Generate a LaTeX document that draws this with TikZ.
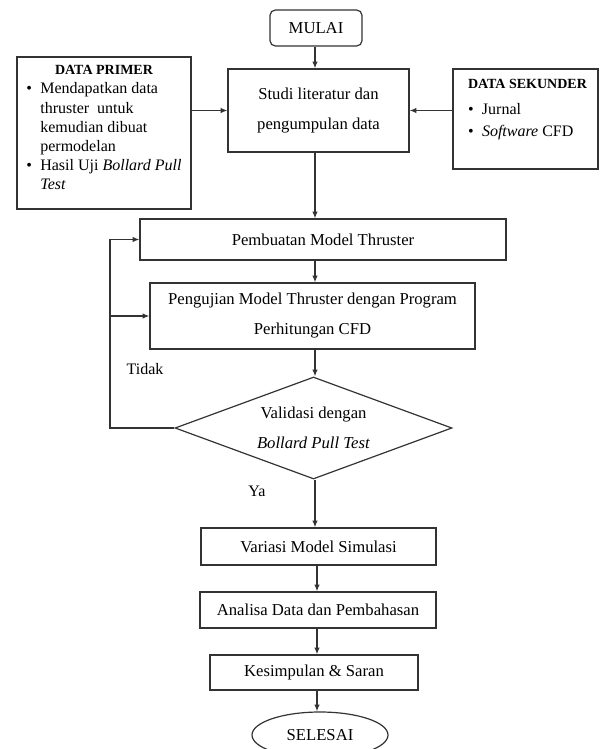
\documentclass[tikz,border=0pt]{standalone}
\usepackage{fontspec}
\setmainfont{Liberation Serif}
\usetikzlibrary{shapes,arrows.meta,positioning}

% bullet line with hanging indent
\newcommand{\itm}[1]{\par\hangindent=10.5pt\hangafter=1\noindent\hbox to 10.5pt{\textbullet\hfil}#1}

\begin{document}
\begin{tikzpicture}[x=0.75pt,y=-0.75pt]
  \tikzset{ box/.style={draw=black!80,line width=0.9pt,rectangle,inner sep=2pt,align=center,
                        font=\fontsize{12.5}{14}\selectfont},
            info/.style={draw=black!80,line width=0.9pt,rectangle,
                        font=\fontsize{12}{14}\selectfont},
            arr/.style={draw=black!80,line width=0.9pt,-{Latex[length=5pt,width=4pt]}},
            lbl/.style={font=\fontsize{12}{14}\selectfont},
  }
  \useasboundingbox (0,0) rectangle (601,749);

  \node[box,rounded corners=4pt,minimum width=69pt,minimum height=27pt] (mulai) at (316,28) {MULAI};
  \node[box,minimum width=135.75pt,minimum height=62.25pt] (studi) at (318.5,110.5)
       {Studi literatur dan\\[8.5pt]pengumpulan data};
  \node[info,inner xsep=7pt,inner ysep=6.5pt] (primer) at (104,133)
       {\parbox[c][101pt][t]{116.5pt}{\raggedright\hyphenpenalty=10000\fontsize{12}{14.3}\selectfont
        {\centering\fontsize{10.5}{13}\selectfont\bfseries DATA PRIMER\par}
        \itm{Mendapatkan data\newline thruster\ \ untuk\newline kemudian dibuat\newline permodelan}
        \itm{\mbox{Hasil Uji \textit{Bollard Pull}}\newline\textit{Test}}}};
  \node[info,inner xsep=11.25pt,inner ysep=7.5pt] (sekunder) at (525.5,119)
       {\parbox[c][60pt][t]{86.25pt}{\raggedright\hyphenpenalty=10000\fontsize{12}{16.5}\selectfont
        \mbox{\fontsize{10.5}{13}\selectfont\bfseries DATA SEKUNDER}\par\vspace{3pt}
        \itm{Jurnal}
        \itm{\textit{Software} CFD}}};
  \node[box,minimum width=274.5pt,minimum height=30.75pt] (pembuatan) at (323,239.5) {Pembuatan Model Thruster};
  \node[box,minimum width=243.75pt,minimum height=49.5pt] (pengujian) at (312.5,316)
       {Pengujian Model Thruster dengan Program\\[8.5pt]Perhitungan CFD};
  \node[box,diamond,aspect=2.7,inner sep=0pt,minimum width=207.75pt,minimum height=76.5pt] (dia) at (313.5,428)
       {Validasi dengan\\[8.5pt]\textit{Bollard Pull Test}};
  \node[box,minimum width=176.25pt,minimum height=27.75pt] (variasi) at (318.5,546.5) {Variasi Model Simulasi};
  \node[box,minimum width=177pt,minimum height=27pt] (analisa) at (318,610) {Analisa Data dan Pembahasan};
  \node[box,minimum width=156pt,minimum height=26.25pt] (kesimpulan) at (314,672.5) {Kesimpulan \& Saran};
  \node[box,ellipse,minimum width=102pt,minimum height=34.5pt] (selesai) at (320,735) {SELESAI};

  \node[lbl] (tidak) at (145,369) {Tidak};
  \node[lbl] (ya) at (257,491) {Ya};

  % main flow
  \coordinate (ax) at (315,0);
  \coordinate (bx) at (317,0);
  \draw[arr] (ax |- mulai.south) -- (ax |- studi.north);
  \draw[arr] (primer.east |- studi) -- (studi.west);
  \draw[arr] (sekunder.west |- studi) -- (studi.east);
  \draw[arr] (ax |- studi.south) -- (ax |- pembuatan.north);
  \draw[arr] (ax |- pembuatan.south) -- (ax |- pengujian.north);
  \draw[arr] (ax |- pengujian.south) -- (ax |- dia.north);
  \draw[arr] (ax |- dia.south) -- (ax |- variasi.north);
  \draw[arr] (bx |- variasi.south) -- (bx |- analisa.north);
  \draw[arr] (bx |- analisa.south) -- (bx |- kesimpulan.north);
  \draw[arr] (bx |- kesimpulan.south) -- (bx |- selesai.north);

  % the loop back when not valid
  \coordinate (loop) at (110,0);
  \draw[arr] (dia.west) -- (dia.west -| loop) -- (loop |- pembuatan) -- (pembuatan.west);
  \draw[arr] (loop |- pengujian) -- (pengujian.west);
\end{tikzpicture}
\end{document}
